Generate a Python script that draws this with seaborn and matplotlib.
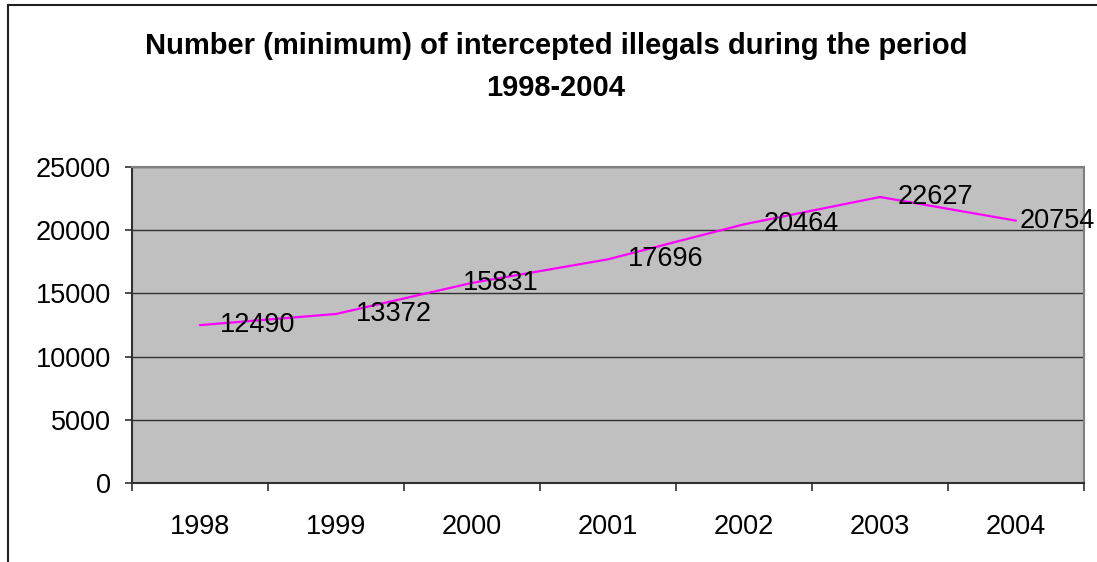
import numpy as np
import pandas as pd
import matplotlib
matplotlib.use("Agg")
import matplotlib.pyplot as plt
from matplotlib.patches import Rectangle
from matplotlib.ticker import FixedLocator
import seaborn as sns

years = ["1998", "1999", "2000", "2001", "2002", "2003", "2004"]
intercepted = [12490, 13372, 15831, 17696, 20464, 22627, 20754]
title = "Number (minimum) of intercepted illegals during the period\n1998-2004"

sns.set_theme(style="white")
plt.rcParams["font.family"] = ["Liberation Sans", "DejaVu Sans"]
plt.rcParams["text.color"] = "black"
plt.rcParams["xtick.color"] = "black"
plt.rcParams["ytick.color"] = "black"

df = pd.DataFrame({"pos": np.arange(len(years)), "year": years, "count": intercepted})

fig = plt.figure(figsize=(10.97, 5.62), dpi=100)
fig.patch.set_facecolor("white")

# outer chart frame (open at right and bottom)
fig.patches.append(Rectangle((8 / 1097, -0.05), 1.2, 1 - 5 / 562 + 0.05,
                             transform=fig.transFigure, fill=False,
                             edgecolor="#202020", linewidth=1.5, zorder=0))

ax = fig.add_axes([132 / 1097, (562 - 483) / 562, (1084 - 132) / 1097, (483 - 167) / 562])
ax.set_facecolor("#C0C0C0")

sns.lineplot(data=df, x="pos", y="count", ax=ax, color="#FF00FF", linewidth=1.6,
             legend=False)

# value labels to the right of each point
label_dx = [20, 20, -9, 20, 20, 18, 4]
for x, y, dx in zip(df["pos"], df["count"], label_dx):
    ax.annotate(str(y), (x, y), xytext=(dx * 0.72, 0), textcoords="offset points",
                ha="left", va="center", fontsize=19.5, color="black",
                annotation_clip=False, zorder=5)

ax.set_xlim(-0.5, len(years) - 0.5)
ax.set_ylim(0, 25000)
ax.set_yticks(np.arange(0, 25001, 5000))
ax.yaxis.grid(True, color="#303030", linewidth=1.0)
ax.xaxis.grid(False)
ax.set_axisbelow(True)

ax.set_xticks(df["pos"])
ax.set_xticklabels(years)
ax.xaxis.set_minor_locator(FixedLocator(np.arange(-0.5, len(years), 1.0)))
ax.tick_params(axis="x", which="major", length=0, pad=22, labelsize=19.5)
ax.tick_params(axis="x", which="minor", length=6, width=1.2, color="#303030",
               direction="out", bottom=True)
ax.tick_params(axis="y", which="major", length=5, width=1.2, color="#303030",
               direction="out", left=True, pad=10, labelsize=19.5)

ax.set_xlabel("")
ax.set_ylabel("")

for side in ["top", "right"]:
    ax.spines[side].set_color("#808080")
    ax.spines[side].set_linewidth(1.5)
for side in ["left", "bottom"]:
    ax.spines[side].set_color("#303030")
    ax.spines[side].set_linewidth(1.5)

fig.text(556 / 1097, 1 - 67 / 562, title, ha="center", va="center",
         fontsize=21, fontweight="bold", linespacing=1.6, color="black")

fig.savefig("out.png", dpi=100)
